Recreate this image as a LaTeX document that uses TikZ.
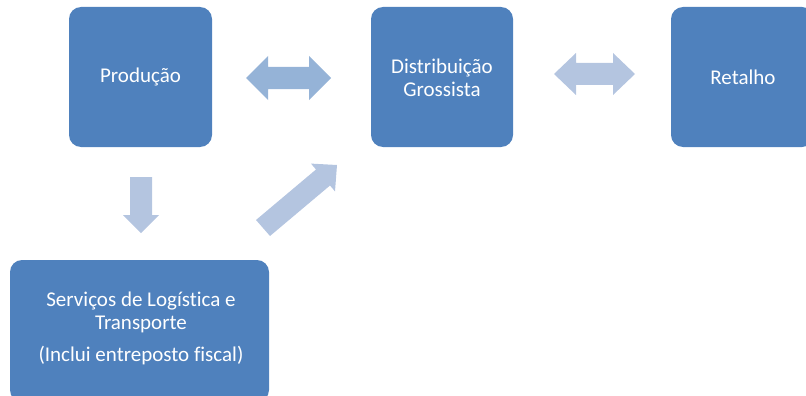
\documentclass[tikz,border=0pt]{standalone}
\usepackage{fontspec}
\setmainfont[Ligatures={NoCommon,NoRequired,NoContextual}]{Carlito}
\definecolor{boxblue}{RGB}{79,129,189}
\definecolor{arrA}{RGB}{149,179,215}
\definecolor{arrB}{RGB}{180,197,224}
\begin{document}
\begin{tikzpicture}[x=1pt,y=-1pt,
  blk/.style={fill=boxblue,rounded corners=12pt,draw=none},
  lbl/.style={text=white,font=\fontsize{21}{23}\selectfont,align=center,inner sep=0pt},
  arrfillA/.style={fill=arrA,draw=none},
  arrfillB/.style={fill=arrB,draw=none}]
\useasboundingbox (0,0) rectangle (806,396);
\clip (0,0) rectangle (806,396);
% boxes
\fill[blk] (69,7) rectangle (212,147);
\node[lbl] (prod) at (140.5,77) {Produção};
\fill[blk] (371,7) rectangle (513,147);
\node[lbl] (dist) at (442,78) {Distribuição\\Grossista};
\fill[blk] (671,7) rectangle (814,147);
\node[lbl] (ret) at (743,77) {Retalho};
\fill[blk] (10,260) rectangle (269,402);
\node[lbl] (serv) at (141,312) {Serviços de Logística e\\Transporte};
\node[lbl] (serv2) at (141,356) {(Inclui entreposto fiscal)};
% double arrow 1
\fill[arrfillA] (246,78) -- (268,56) -- (268,67) -- (309,67) -- (309,56) -- (331,78)
  -- (309,100) -- (309,89) -- (268,89) -- (268,100) -- cycle;
% double arrow 2
\fill[arrfillB] (554,74) -- (576,53) -- (576,63) -- (613,63) -- (613,53) -- (635,74)
  -- (613,95) -- (613,85) -- (576,85) -- (576,95) -- cycle;
% down arrow
\fill[arrfillB] (130,177) -- (152,177) -- (152,215) -- (159,215) -- (141,233)
  -- (123,215) -- (130,215) -- cycle;
% diagonal arrow
\fill[arrfillB] (256,220) -- (316,169.5) -- (311,163.6) -- (337,165) -- (335,191.4)
  -- (330,185.5) -- (270,236) -- cycle;
\end{tikzpicture}
\end{document}
